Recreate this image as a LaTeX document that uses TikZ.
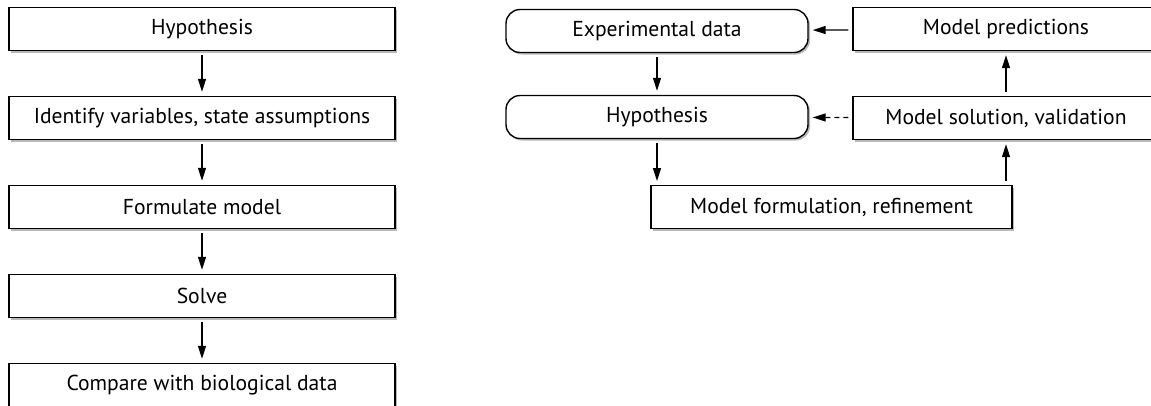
\documentclass[tikz,border=0pt]{standalone}
\usepackage{fontspec}
\setmainfont{PT Sans}
\usetikzlibrary{arrows.meta,shadows}

\tikzset{
  stepbox/.style={draw, line width=1.4pt, fill=white, inner sep=0pt,
    minimum height=43pt,
    drop shadow={shadow xshift=2pt, shadow yshift=-2pt, fill=black!55}},
  databox/.style={stepbox, rounded corners=14pt},
  link/.style={-{Triangle[width=8pt,length=13pt]}, line width=1.3pt,
    shorten <=4pt, shorten >=4pt},
}

\begin{document}
\begin{tikzpicture}[x=1pt,y=-1pt,font=\fontsize{21.6}{26}\selectfont]
\useasboundingbox (0,0) rectangle (1151,405);

% simple scheme
\node[stepbox, minimum width=386pt] (hypo)    at (202,29)  {Hypothesis};
\node[stepbox, minimum width=386pt] (ident)   at (202,118) {Identify variables, state assumptions};
\node[stepbox, minimum width=386pt] (formul)  at (202,207) {Formulate model};
\node[stepbox, minimum width=386pt] (solve)   at (202,296) {Solve};
\node[stepbox, minimum width=386pt] (compare) at (202,385) {Compare with biological data};
\foreach \a/\b in {hypo/ident, ident/formul, formul/solve, solve/compare}
  \draw[link] (\a) -- (\b);

% modelling cycle
\node[databox, minimum width=302pt] (expdata) at (657,31)    {Experimental data};
\node[databox, minimum width=302pt] (hypo2)   at (657,117)   {Hypothesis};
\node[stepbox, minimum width=361pt] (refine)  at (831.5,207) {Model formulation, refinement};
\node[stepbox, minimum width=306pt] (valid)   at (1006,118)  {Model solution, validation};
\node[stepbox, minimum width=306pt] (predict) at (1006,29)   {Model predictions};
\coordinate (hypoend) at (657,181);

\draw[link] (expdata) -- (hypo2);
\draw[link, shorten >=0pt] (hypo2) -- (hypoend);
\draw[link] (refine.north -| valid) -- (valid);
\draw[link] (valid) -- (predict);
\draw[link] (predict) -- (expdata);
\draw[link, dash pattern=on 5pt off 4pt] (valid) -- (hypo2);
\end{tikzpicture}
\end{document}
